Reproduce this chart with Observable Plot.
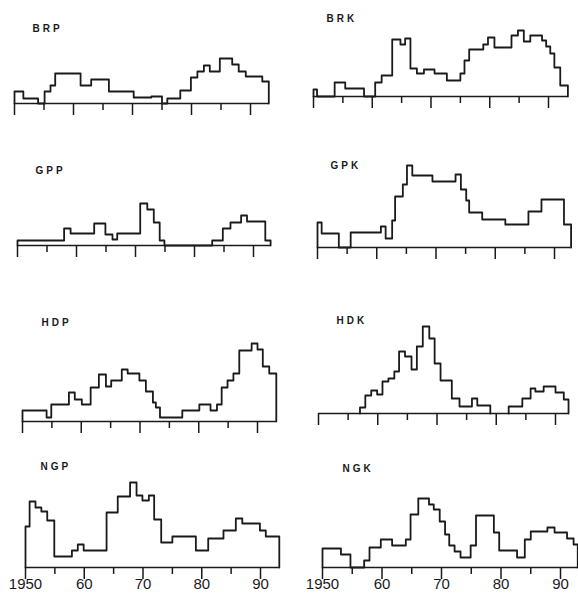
<!DOCTYPE html>
<html><head><meta charset="utf-8">
<script src="https://cdn.jsdelivr.net/npm/d3@7"></script>
<script src="https://cdn.jsdelivr.net/npm/@observablehq/plot@0.6"></script>
<style>
html,body{margin:0;padding:0;background:#fff;}
#chart{position:relative;width:578px;height:594px;overflow:hidden;font-family:"Liberation Sans",Arial,sans-serif;}
#chart svg{position:absolute;overflow:visible;}
#chart g[aria-label="text"] text{letter-spacing:3px;}
</style></head><body><div id="chart"></div>
<script>
// Tick values
const decadeTicks = [1950, 1960, 1970, 1980, 1990];
const halfTicks = [1955, 1965, 1975, 1985];
const tickLabels = ["1950", "60", "70", "80", "90"];

// Series (step breakpoints: year where a level starts, level value); null = gap
const brpYears = [1950, 1951.5, 1954, 1955.1, 1956.1, 1956.9, 1961.2, 1963, 1966, 1970.2, 1973.2, 1975, 1975.9, 1978.1, 1979.9, 1981, 1982.1, 1983.1, 1984.8, 1986.9, 1988, 1989.2, 1992, 1993.1];
const brpValues = [12, 5, 0, 12, 18, 30, 18, 24, 12, 6, 7, 0, 5, 13, 26, 32, 38, 32, 45, 39, 32, 27, 22, 0];

const brkYears = [1950, 1950.6, 1953.6, 1955.4, 1958.6, 1960.5, 1961.6, 1963.4, 1964.8, 1965.6, 1966.5, 1967.6, 1968.8, 1970.6, 1972.7, 1975, 1975.7, 1976.5, 1978.9, 1979.7, 1980.8, 1983.7, 1984.8, 1985.8, 1986.9, 1988.9, 1989.6, 1990.3, 1991, 1992, 1993.3];
const brkValues = [7, 0, 14, 8, 0, 14, 21, 57, 52, 58, 28, 23, 27, 23, 16, 23, 36, 47, 52, 59, 49, 61, 66, 55, 61, 56, 50, 43, 29, 11, 0];

const gppYears = [1950, 1957.9, 1959, 1963, 1964.9, 1966.1, 1966.9, 1970.8, 1972, 1973.1, 1974.1, 1974.9, 1983, 1984.8, 1986.1, 1987.9, 1988.9, 1992, 1992.9];
const gppValues = [5, 17, 12, 22, 11, 6, 12, 42, 36, 23, 5, 0, 5, 17, 23, 30, 24, 5, 0];

const gpkYears = [1950, 1950.7, 1953.6, 1955.6, 1960.7, 1961.5, 1962.6, 1963.1, 1964.4, 1965.1, 1966, 1969.4, 1973.3, 1974.2, 1975.1, 1975.6, 1977.8, 1981.7, 1985.6, 1987.8, 1991.6, 1992.8];
const gpkValues = [25, 14, 0, 15, 21, 9, 27, 51, 63, 82, 72, 66, 73, 58, 47, 35, 28, 23, 36, 48, 23, 0];

const hdpYears = [1950, 1954.1, 1954.9, 1957.9, 1958.9, 1960.1, 1961.6, 1963, 1964.2, 1965.1, 1966.9, 1967.9, 1969.9, 1971, 1972.2, 1972.7, 1973.4, 1977.2, 1980.1, 1982, 1983.1, 1983.9, 1984.9, 1985.9, 1986.9, 1989, 1990, 1990.9, 1992, 1993.2];
const hdpValues = [11, 4, 17, 29, 22, 17, 34, 47, 35, 41, 52, 48, 41, 30, 19, 14, 4, 11, 17, 11, 17, 34, 41, 48, 71, 78, 72, 55, 48, 0];

const hdkYears = [1957, 1957.9, 1958.9, 1959.9, 1960.8, 1961.8, 1962.8, 1963.6, 1964.6, 1965.7, 1966.6, 1967.6, 1968.7, 1969.6, 1970.6, 1972.5, 1973.8, 1975.9, 1976.8, 1979, 1980, 1982.1, 1984.4, 1985.8, 1986.6, 1988, 1990, 1991.4, 1992.2];
const hdkValues = [6, 18, 23, 19, 32, 35, 42, 62, 57, 44, 67, 87, 75, 50, 33, 15, 7, 15, 8, 0, null, 7, 15, 25, 22, 27, 21, 14, 0];

const ngpYears = [1950, 1950.7, 1951.7, 1952.7, 1953.7, 1954.9, 1957.9, 1958.9, 1959.9, 1963.8, 1965.7, 1967.8, 1968.9, 1969.9, 1971, 1971.9, 1973.1, 1975, 1979, 1981.1, 1983.7, 1985.8, 1986.9, 1989.9, 1990.9, 1993.2];
const ngpValues = [41, 66, 60, 56, 47, 11, 17, 23, 17, 55, 71, 85, 72, 67, 72, 48, 25, 31, 17, 29, 37, 49, 44, 37, 31, 0];

const ngkYears = [1950, 1953.1, 1954.7, 1957, 1957.9, 1959.8, 1961.7, 1964, 1964.8, 1966.1, 1967.9, 1968.7, 1969.7, 1970.6, 1971.3, 1972.2, 1973.2, 1974.9, 1975.8, 1978.8, 1979.7, 1982.7, 1984, 1985, 1987.8, 1989, 1991.1, 1992.2, 1992.9];
const ngkValues = [19, 13, 0, 7, 20, 28, 22, 28, 53, 69, 63, 58, 46, 33, 22, 16, 10, 22, 52, 35, 17, 10, 28, 36, 40, 35, 29, 23, 0];

const panelNames = ["BRP", "BRK", "GPP", "GPK", "HDP", "HDK", "NGP", "NGK"];
const panelYears = [brpYears, brkYears, gppYears, gpkYears, hdpYears, hdkYears, ngpYears, ngkYears];
const panelValues = [brpValues, brkValues, gppValues, gpkValues, hdpValues, hdkValues, ngpValues, ngkValues];

// layout (page pixels) for each panel: position of 1950 and 1990, baseline, label
const layout = [
  {x0: 14,  x1: 250, base: 103, lx: 32,  ly: 28},
  {x0: 313, x1: 548, base: 96,  lx: 326, ly: 18},
  {x0: 17,  x1: 253, base: 245, lx: 35,  ly: 170},
  {x0: 317, x1: 554, base: 247, lx: 330, ly: 165},
  {x0: 22,  x1: 257, base: 421, lx: 41,  ly: 322},
  {x0: 318, x1: 555, base: 413, lx: 336, ly: 320},
  {x0: 25,  x1: 260, base: 567, lx: 40,  ly: 466},
  {x0: 322, x1: 560, base: 567, lx: 342, ly: 468}
];

const ink = "#1a1a1a";
const chart = document.getElementById("chart");

panelNames.forEach((name, k) => {
  const L = layout[k];
  const col = k % 2;
  const bottom = k >= 6;
  const left = col ? 289 : 0, W = 289, H = 136;
  const years = panelYears[k], values = panelValues[k];
  const rows = [];
  let start = true;
  years.forEach((yr, i) => {
    const v = values[i];
    if (v == null) { rows.push({year: yr, value: NaN}); start = true; return; }
    if (start) { rows.push({year: yr, value: 0}); start = false; }
    rows.push({year: yr, value: v});
  });
  const end = years[years.length - 1];
  const svg = Plot.plot({
    width: W, height: H,
    marginLeft: L.x0 - left, marginRight: left + W - L.x1,
    marginTop: 0, marginBottom: H - 100,
    style: {background: "transparent", color: ink, fontFamily: "'Liberation Sans', Arial, sans-serif", overflow: "visible"},
    x: {domain: [1950, 1990], label: null},
    y: {domain: [0, 100], axis: null, label: null},
    marks: [
      Plot.ruleY([{value: 0, from: 1950, to: end}], {y: "value", x1: "from", x2: "to", stroke: ink, strokeWidth: 1.6}),
      Plot.axisX({ticks: decadeTicks, tickSize: 12, tickPadding: -1, stroke: ink, strokeWidth: 1.5, fontSize: 15,
        tickFormat: bottom ? (d => tickLabels[decadeTicks.indexOf(d)]) : (() => "")}),
      Plot.axisX({ticks: halfTicks, tickSize: 7, stroke: ink, strokeWidth: 1.5, tickFormat: () => ""}),
      Plot.line(rows, {x: "year", y: "value", curve: "step-after", stroke: ink, strokeWidth: 1.8}),
      Plot.text([name], {frameAnchor: "top-left", text: d => d, dx: L.lx - L.x0, dy: (L.ly - 4) - (L.base - 100),
        fontSize: 10, fontWeight: "bold", fill: ink})
    ]
  });
  svg.style.left = left + "px";
  svg.style.top = (L.base - 100) + "px";
  chart.appendChild(svg);
});
</script></body></html>
